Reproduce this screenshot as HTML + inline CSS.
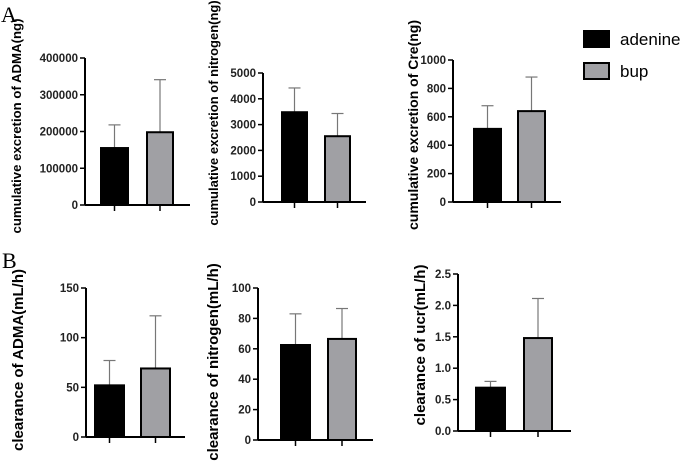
<!DOCTYPE html>
<html><head><meta charset="utf-8"><style>
html,body{margin:0;padding:0;background:#fff;width:688px;height:462px;overflow:hidden}
svg text{font-family:"Liberation Sans",Arial,sans-serif}
.b{font-weight:700}
</style></head><body>
<svg id="fig" width="688" height="462" xmlns="http://www.w3.org/2000/svg">
<text x="1" y="22" style="font-family:'Liberation Serif',serif" font-size="22">A</text>
<text x="2" y="268" style="font-family:'Liberation Serif',serif" font-size="22">B</text>
<g>
<rect x="583" y="30" width="27" height="18" fill="#000"/>
<text x="620" y="45" font-size="17">adenine</text>
<rect x="584" y="63" width="25" height="16" fill="#a0a0a4" stroke="#000" stroke-width="2"/>
<text x="620" y="77" font-size="17">bup</text>
</g>
</svg>
<script>
const titles=["cumulative excretion of ADMA(ng)","cumulative excretion of nitrogen(ng)","cumulative excretion of Cre(ng)","clearance of ADMA(mL/h)","clearance of nitrogen(mL/h)","clearance of ucr(mL/h)"];
const adenineMeans=[155000,3480,515,52,62.5,0.69];
const adenineErr=[218000,4420,678,77,83,0.79];
const bupMeans=[198000,2550,640,69,66.5,1.48];
const bupErr=[341000,3430,880,122,86.5,2.11];
const yMax=[400000,5000,1000,150,100,2.5];
const tickLabels=[["0","100000","200000","300000","400000"],["0","1000","2000","3000","4000","5000"],["0","200","400","600","800","1000"],["0","50","100","150"],["0","20","40","60","80","100"],["0.0","0.5","1.0","1.5","2.0","2.5"]];
const tickValues=[[0,100000,200000,300000,400000],[0,1000,2000,3000,4000,5000],[0,200,400,600,800,1000],[0,50,100,150],[0,20,40,60,80,100],[0,0.5,1,1.5,2,2.5]];
const L=[
 {ax:85,top:58,bot:205,end:190,b1:[100,129],b2:[146,174],tx:16,ty:126,fs:13.2},
 {ax:263,top:73,bot:202,end:366,b1:[281,308],b2:[324,351],tx:213,ty:113,fs:13},
 {ax:453,top:60,bot:202,end:561,b1:[473,502],b2:[517,546],tx:413,ty:125,fs:14},
 {ax:86,top:288,bot:437,end:185,b1:[94,125],b2:[140,171],tx:18,ty:360,fs:15},
 {ax:258,top:288,bot:440,end:373,b1:[280,311],b2:[327,357],tx:213,ty:362,fs:15},
 {ax:458,top:274,bot:431,end:571,b1:[475,506],b2:[523,553],tx:420,ty:345,fs:15}
];
const NS="http://www.w3.org/2000/svg",svg=document.getElementById('fig');
function mk(t,a,p){const e=document.createElementNS(NS,t);for(const k in a)e.setAttribute(k,a[k]);(p||svg).appendChild(e);return e;}
titles.forEach((title,i)=>{
 const l=L[i];const y=v=>l.bot-(v/yMax[i])*(l.bot-l.top);
 const g=mk('g',{});
 
 
 const bars=[[adenineMeans[i],adenineErr[i],l.b1,'#000'],[bupMeans[i],bupErr[i],l.b2,'#a0a0a4']];
 bars.forEach((b,j)=>{
  const cx=(b[2][0]+b[2][1])/2;
  const e=mk('line',{x1:cx,x2:cx,y1:y(b[1]),y2:y(b[0]),stroke:'#777','stroke-width':1.2},g);
  
  
  mk('line',{x1:cx-6,x2:cx+6,y1:y(b[1]),y2:y(b[1]),stroke:'#777','stroke-width':1.2},g);
  const r=mk('rect',{x:b[2][0]+1,y:y(b[0]),width:b[2][1]-b[2][0]-2,height:l.bot-y(b[0]),fill:b[3],stroke:'#000','stroke-width':2},g);
  
  
  mk('line',{x1:cx,x2:cx,y1:l.bot,y2:l.bot+6,stroke:'#000','stroke-width':1.5},g);
 });
 mk('line',{x1:l.ax,x2:l.ax,y1:l.top,y2:l.bot,stroke:'#000','stroke-width':2},g);
 mk('line',{x1:l.ax,x2:l.end,y1:l.bot,y2:l.bot,stroke:'#000','stroke-width':2},g);
 tickValues[i].forEach((v,k)=>{
  mk('line',{x1:l.ax-5,x2:l.ax,y1:y(v),y2:y(v),stroke:'#000','stroke-width':1.5},g);
  const t=mk('text',{x:l.ax-7,y:y(v)+4,'text-anchor':'end','font-size':11.5,class:'b',fill:'#222'},g);
  t.textContent=tickLabels[i][k];
  
  
 });
 const tt=mk('text',{x:0,y:0,'text-anchor':'middle','font-size':l.fs,class:'b',transform:`translate(${l.tx+5},${l.ty}) rotate(-90)`},g);
 tt.textContent=title;
 
 
});
</script>
</body></html>
